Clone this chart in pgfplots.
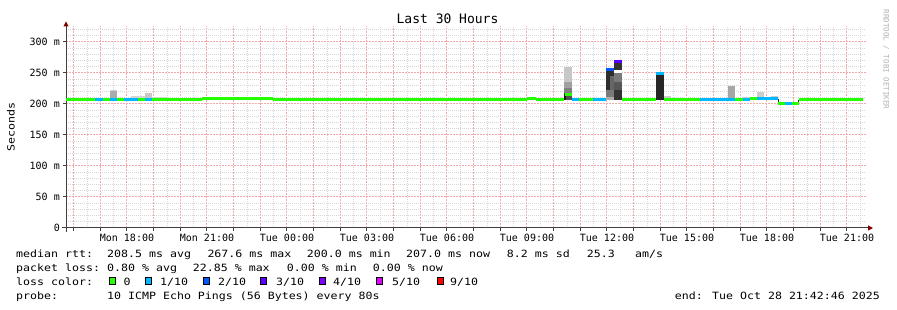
\documentclass[border=0pt]{standalone}
\usepackage{fontspec}
\usepackage{pgfplots}
\pgfplotsset{compat=1.18}
\usetikzlibrary{arrows.meta}
\newfontfamily\rrd{DejaVu Sans Mono}
\newfontfamily\rrdw[FakeStretch=1.16]{DejaVu Sans Mono}
\definecolor{l0}{HTML}{26FF00}
\definecolor{l1}{HTML}{00B8FF}
\definecolor{l2}{HTML}{0059FF}
\definecolor{l3}{HTML}{5E00FF}
\definecolor{l4}{HTML}{7E00FF}
\definecolor{l5}{HTML}{DD00FF}
\definecolor{l9}{HTML}{FF0000}
\definecolor{majgrid}{HTML}{E86A6A}
\definecolor{mingrid}{HTML}{D6D6D6}
\definecolor{arrowred}{HTML}{800000}
\newcommand{\smoke}[5]{\addplot[fill=#1,draw=none] coordinates {(#2,#4) (#3,#4) (#3,#5) (#2,#5)} -- cycle;}
\begin{document}
\begin{tikzpicture}[x=1pt,y=1pt]
\useasboundingbox (0,0) rectangle (897,310);
\fill[white] (0,0) rectangle (897,310);
\begin{axis}[at={(66pt,82pt)}, anchor=south west, scale only axis,
  width=800pt, height=202pt,
  xmin=15.7128, xmax=45.7128, ymin=0, ymax=325.8,
  axis x line=bottom, axis y line=left,
  x axis line style={black!75, line width=1pt, -{Triangle[length=5pt,width=5pt,color=arrowred]}, shorten >=-7pt, shorten <=-4pt},
  y axis line style={black!75, line width=1pt, -{Triangle[length=5pt,width=5pt,color=arrowred]}, shorten >=-4.5pt, shorten <=-4pt},
  xtick={16,...,45},
  xticklabels={{},{},Mon 18:00,{},{},Mon 21:00,{},{},Tue 00:00,{},{},Tue 03:00,{},{},Tue 06:00,{},{},Tue 09:00,{},{},Tue 12:00,{},{},Tue 15:00,{},{},Tue 18:00,{},{},Tue 21:00},
  minor xtick={16.5,17.5,...,45.5},
  ytick={0,50,...,300},
  yticklabels={0,50 m,100 m,150 m,200 m,250 m,300 m},
  minor ytick={10,20,30,40,60,70,80,90,110,120,130,140,160,170,180,190,210,220,230,240,260,270,280,290,310,320},
  grid=both,
  major grid style={majgrid!58, line width=1pt, dash pattern=on 2pt off 1pt},
  minor grid style={mingrid, line width=0.8pt, dash pattern=on 1pt off 1pt},
  tick align=outside, major tick length=3pt, minor tick length=0pt,
  tick style={black!75, line width=1pt},
  xticklabel style={font=\rrd\fontsize{10}{12}\selectfont, inner sep=0pt, anchor=north, yshift=-3pt},
  yticklabel style={font=\rrd\fontsize{10}{12}\selectfont, inner sep=0pt, anchor=east, xshift=-3pt},
]
% smoke
\smoke{black!18}{17.363}{17.625}{206}{222.6}
\smoke{black!33}{17.363}{17.625}{206}{221.5}
\smoke{black!17}{18.150}{18.675}{206}{213}
\smoke{black!22}{18.675}{18.938}{206}{218}
\smoke{black!17}{18.938}{19.500}{206}{212}
\smoke{black!20}{20.813}{21.075}{206}{211}
\smoke{black!22}{33.000}{33.338}{206}{211.5}
% bar 1
\smoke{black!22}{34.388}{34.688}{206}{259}
\smoke{black!37}{34.388}{34.688}{206}{236}
\smoke{black!50}{34.388}{34.688}{206}{225}
\smoke{black!68}{34.388}{34.688}{206}{218}
\smoke{black!90}{34.388}{34.463}{206}{216}
% bar 2
\smoke{black!82}{35.963}{36.281}{206}{255.5}
\smoke{black!60}{36.113}{36.281}{222}{245}
\smoke{black!52}{35.963}{36.281}{211}{222}
\smoke{black!33}{35.963}{36.281}{206}{211}
% bar 3
\smoke{black!80}{36.281}{36.563}{206}{268.5}
\smoke{white}{36.281}{36.563}{249.5}{255}
\smoke{black!52}{36.281}{36.563}{236}{249.5}
\smoke{black!66}{36.281}{36.563}{222}{236}
% bar 4
\smoke{black!85}{37.838}{38.138}{206}{249.5}
\smoke{black!85}{37.838}{37.894}{206}{251}
\smoke{black!20}{38.138}{38.400}{206}{213}
% evening
\smoke{black!35}{40.538}{40.800}{206}{229.5}
\smoke{black!20}{41.100}{41.625}{206}{210.5}
\smoke{black!20}{41.625}{41.888}{206}{220}
\smoke{black!20}{42.150}{42.413}{206}{213}
\addplot[black!85, line width=1pt] coordinates {(42.413,199.5) (42.413,207.5)};
\addplot[black!85, line width=1pt] coordinates {(43.180,199.5) (43.180,206.5)};
% median, 0 loss
\addplot[l0, line width=3pt, line cap=butt, unbounded coords=jump] table {
x y
15.713 207.7
16.800 207.7
nan nan
17.100 207.7
17.363 207.7
nan nan
17.625 207.7
17.888 207.7
nan nan
18.413 207.7
18.675 207.7
nan nan
18.938 207.7
20.813 207.7
nan nan
20.813 209.0
23.475 209.0
nan nan
23.475 207.5
33.000 207.5
nan nan
33.000 209.5
33.338 209.5
nan nan
33.338 207.5
34.388 207.5
nan nan
34.425 215.8
34.688 215.8
nan nan
34.950 207.5
35.475 207.5
nan nan
36.563 207.5
37.613 207.5
nan nan
37.613 206.8
37.838 206.8
nan nan
38.138 207.5
39.488 207.5
nan nan
40.800 207.5
41.100 207.5
nan nan
41.363 209.0
41.625 209.0
nan nan
42.413 200.8
42.675 200.8
nan nan
42.938 200.0
43.200 200.0
nan nan
43.200 206.5
43.500 206.5
nan nan
43.500 207.3
45.600 207.3
};
% median, 1/10 loss
\addplot[l1, line width=3pt, line cap=butt, unbounded coords=jump] table {
x y
16.800 207.7
17.100 207.7
nan nan
17.363 207.7
17.625 207.7
nan nan
17.888 207.7
18.413 207.7
nan nan
18.675 207.2
18.938 207.2
nan nan
34.688 207.5
34.950 207.5
nan nan
35.475 207.5
35.963 207.5
nan nan
37.838 248.7
38.138 248.7
nan nan
39.488 207.5
40.800 207.5
nan nan
41.100 208.0
41.363 208.0
nan nan
41.625 209.0
42.413 209.0
nan nan
42.675 200.0
42.938 200.0
};
% median, 2/10 and 3/10 loss
\addplot[l2, line width=3pt, line cap=butt] coordinates {(35.963,255.6) (36.281,255.6)};
\addplot[l3, line width=3pt, line cap=butt] coordinates {(36.281,268.2) (36.563,268.2)};
\end{axis}
% texts
\node[font=\rrd\fontsize{13}{15}\selectfont, inner sep=0pt] at (447.5,291) {Last 30 Hours};
\node[font=\rrdw\fontsize{10}{12}\selectfont, inner sep=0pt, rotate=90] at (11,183) {Seconds};
\node[font=\rrd\fontsize{7.5}{9}\selectfont, inner sep=0pt, rotate=-90, text=black!30] at (886,250.5) {RRDTOOL / TOBI OETIKER};
\begin{scope}[every node/.style={font=\rrdw\fontsize{10}{12}\selectfont, inner sep=0pt, anchor=base west}]
\node at (16,52.5) {median rtt:};
\node at (107,52.5) {208.5 ms avg};
\node at (207.3,52.5) {267.6 ms max};
\node at (306.7,52.5) {200.0 ms min};
\node at (406,52.5) {207.0 ms now};
\node at (506.7,52.5) {8.2 ms sd};
\node at (586.7,52.5) {25.3};
\node at (635,52.5) {am/s};
\node at (16,38.3) {packet loss:};
\node at (107,38.3) {0.80 \% avg};
\node at (192.7,38.3) {22.85 \% max};
\node at (286.7,38.3) {0.00 \% min};
\node at (372.7,38.3) {0.00 \% now};
\node at (16,24.2) {loss color:};
\node at (123.3,24.2) {0};
\node at (160,24.2) {1/10};
\node at (218,24.2) {2/10};
\node at (276,24.2) {3/10};
\node at (333,24.2) {4/10};
\node at (392,24.2) {5/10};
\node at (450,24.2) {9/10};
\node at (16,10) {probe:};
\node at (107,10) {10 ICMP Echo Pings (56 Bytes) every 80s};
\node[anchor=base east] at (880,10) {end: Tue Oct 28 21:42:46 2025};
\end{scope}
\foreach \c/\x in {l0/112,l1/148.7,l2/206.3,l3/263.7,l4/322,l5/379.7,l9/440}{
  \draw[black, line width=0.8pt, fill=\c] (\x-3,26) rectangle (\x+3,32.6);
}
\end{tikzpicture}
\end{document}
